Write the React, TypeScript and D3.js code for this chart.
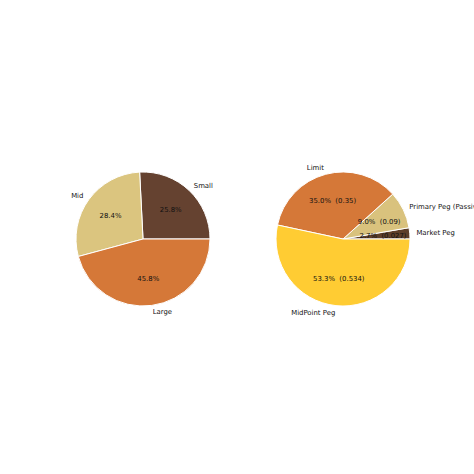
import * as React from 'react';
import * as d3 from 'd3';

const sizeLabels = ['Small', 'Mid', 'Large'];
const sizeValues = [25.8, 28.4, 45.8];
const sizeColors = ['#654230', '#dbc57f', '#d57838'];

const typeLabels = ['Market Peg', 'Primary Peg (Passive)', 'Limit', 'MidPoint Peg'];
const typeValues = [0.027, 0.09, 0.35, 0.534];
const typeColors = ['#5e3f2a', '#d9c27d', '#d57838', '#ffcc33'];

const W = 474;
const H = 474;
const R = 67;
const FONT = 'DejaVu Sans, sans-serif';

interface PieProps {
  cx: number;
  cy: number;
  labels: string[];
  values: number[];
  colors: string[];
  showValue: boolean;
}

function Pie({ cx, cy, labels, values, colors, showValue }: PieProps) {
  const total = d3.sum(values);
  // matplotlib: start at 3 o'clock, counterclockwise
  const pie = d3.pie<number>().sort(null).value((d) => d)
    .startAngle(Math.PI / 2).endAngle(Math.PI / 2 - 2 * Math.PI);
  const arcs = pie(values);
  const arc = d3.arc<d3.PieArcDatum<number>>().innerRadius(0).outerRadius(R);

  return (
    <g transform={`translate(${cx},${cy})`}>
      {arcs.map((a, i) => (
        <path key={'w' + i} d={arc(a) || ''} fill={colors[i]} stroke="#fff" strokeWidth={1} strokeLinejoin="round" />
      ))}
      {arcs.map((a, i) => {
        const m = (a.startAngle + a.endAngle) / 2;
        const lx = 1.1 * R * Math.sin(m);
        const ly = -1.1 * R * Math.cos(m);
        const px = 0.6 * R * Math.sin(m);
        const py = -0.6 * R * Math.cos(m);
        const pct = ((100 * a.value) / total).toFixed(1) + '%';
        const txt = showValue ? `${pct}  (${a.value})` : pct;
        return (
          <g key={'t' + i}>
            <text x={lx} y={ly} dy="0.35em" textAnchor={lx > 0 ? 'start' : 'end'}
              fontSize={6.9} fontFamily={FONT} fill="#111">{labels[i]}</text>
            <text x={px} y={py} dy="0.35em" textAnchor="middle" style={{ whiteSpace: 'pre' }}
              fontSize={6.9} fontFamily={FONT} fill="#111">{txt}</text>
          </g>
        );
      })}
    </g>
  );
}

export default function App() {
  return (
    <svg width={W} height={H} style={{ position: 'absolute', left: 0, top: 0, background: '#fff' }}>
      <rect width={W} height={H} fill="#fff" />
      <Pie cx={143} cy={239} labels={sizeLabels} values={sizeValues} colors={sizeColors} showValue={false} />
      <Pie cx={343} cy={239} labels={typeLabels} values={typeValues} colors={typeColors} showValue={true} />
    </svg>
  );
}
